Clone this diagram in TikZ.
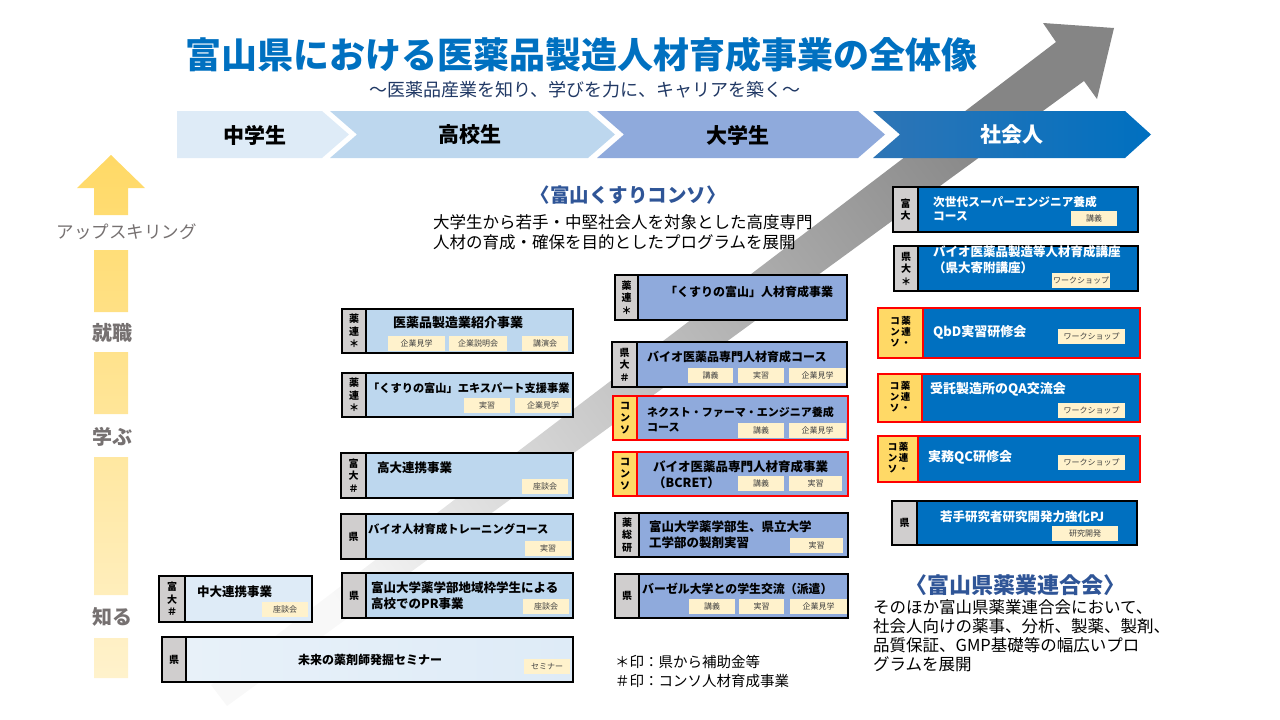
\documentclass[tikz,border=0pt]{standalone}
\usepackage{fontspec}
\setmainfont{Noto Sans CJK JP}
\usetikzlibrary{calc}
\definecolor{titleblue}{HTML}{0070C0}
\definecolor{navy}{HTML}{203864}
\definecolor{consoblue}{HTML}{2F5597}
\definecolor{stepA}{HTML}{DEEBF7}
\definecolor{stepB}{HTML}{BDD7EE}
\definecolor{stepC}{HTML}{8FAADC}
\definecolor{stepD}{HTML}{0070C0}
\definecolor{stepDl}{HTML}{2E75B6}
\definecolor{taggray}{HTML}{D0CECE}
\definecolor{tagyellow}{HTML}{FFD966}
\definecolor{memocol}{HTML}{FFF2CC}
\definecolor{labelgray}{HTML}{767171}
\definecolor{arrowlight}{HTML}{F8F8F8}
\definecolor{arrowdark}{HTML}{858585}
\definecolor{ylwtop}{HTML}{FFD966}
\definecolor{ylwbot}{HTML}{FFF2CC}
\def\consopair{\begin{tabular}{@{}c@{\hspace{1.5pt}}c@{}}コ&薬\\ン&連\\ソ&・\end{tabular}}
\tikzset{
	frame/.style={draw=black, line width=1.1pt, inner sep=0pt, outer sep=0pt, anchor=north west},
	tagbox/.style={frame, fill=taggray, align=center, font=\bfseries\fontsize{10}{12.5}\selectfont},
	consotag/.style={frame, draw=red, line width=2.6pt, fill=tagyellow, align=center, font=\bfseries\fontsize{10}{12}\selectfont},
	jhbox/.style={frame, fill=stepA},
	hsbox/.style={frame, fill=stepB},
	unibox/.style={frame, fill=stepC},
	workbox/.style={frame, fill=stepD},
	redbox/.style={draw=red, line width=2.6pt},
	memo/.style={fill=memocol, inner sep=0pt, outer sep=0pt, anchor=north west, minimum height=15pt, font=\fontsize{8}{8}\selectfont, text=black!75},
	boxtitle/.style={anchor=west, inner sep=0pt, align=left, font=\bfseries\fontsize{12.5}{16}\selectfont},
	stage/.style={font=\bfseries\fontsize{21}{21}\selectfont},
	level/.style={text=labelgray, font=\bfseries\fontsize{20}{20}\selectfont},
}

\begin{document}
\begin{tikzpicture}[x=1pt, y=-1pt]
	%%%%% START %%%%%
	\useasboundingbox (0, 0) rectangle (1280, 720);
	
	% big gray arrow
	\shade[bottom color=arrowlight, top color=arrowdark, shading angle=-53]
		(211, 685) -- (1056, 42) -- (1043, 23) -- (1114, 28) -- (1097, 99) -- (1084, 81) -- (227, 706) -- cycle;
	
	\node[text=titleblue, font=\bfseries\fontsize{36}{36}\selectfont] (title) at (581, 55) {富山県における医薬品製造人材育成事業の全体像};
	\node[text=navy, font=\fontsize{18}{18}\selectfont] (subtitle) at (585, 90) {～医薬品産業を知り、学びを力に、キャリアを築く～};
	
	% stages
	\fill[stepA] (177, 111) -- (322, 111) -- (349, 134.5) -- (322, 158) -- (177, 158) -- cycle;
	\fill[stepB] (330, 111) -- (588, 111) -- (615, 134.5) -- (588, 158) -- (330, 158) -- (357, 134.5) -- cycle;
	\fill[stepC] (597, 111) -- (858, 111) -- (885, 134.5) -- (858, 158) -- (597, 158) -- (624, 134.5) -- cycle;
	\shade[left color=stepDl, right color=stepD] (873, 111) -- (1125, 111) -- (1151, 134.5) -- (1125, 158) -- (873, 158) -- (900, 134.5) -- cycle;
	\node[stage] (junior) at (255, 135) {中学生};
	\node[stage] (high) at (470, 135) {高校生};
	\node[stage] (univ) at (738, 135) {大学生};
	\node[stage, text=white] (worker) at (1012, 135) {社会人};
	
	% yellow arrow
	\shade[top color=ylwtop, bottom color=ylwbot]
		(111, 155) -- (145, 188) -- (77, 188) -- cycle
		(94, 188) rectangle (128, 215)
		(94, 250) rectangle (128, 312)
		(94, 352) rectangle (128, 414)
		(94, 457) rectangle (128, 595)
		(94, 638) rectangle (128, 678);
	\node[anchor=west, text=labelgray, font=\fontsize{17.5}{17.5}\selectfont] (upskill) at (53, 232) {アップスキリング};
	\node[level] (job) at (112, 333) {就職};
	\node[level] (learn) at (112, 437) {学ぶ};
	\node[level] (know) at (112, 617) {知る};
	
	\node[text=consoblue, font=\bfseries\fontsize{19.5}{19.5}\selectfont] (kusuri) at (628, 195) {〈富山くすりコンソ〉};
	\node[anchor=west, inner sep=0pt, align=left, font=\fontsize{16.5}{20}\selectfont] (kusuritxt) at (433, 232) {大学生から若手・中堅社会人を対象とした高度専門\\人材の育成・確保を目的としたプログラムを展開};
	
	% left column
	\node[tagbox, minimum width=24pt, minimum height=44pt] (l1tag) at (342, 309) {薬\\連\\＊};
	\node[hsbox, minimum width=207pt, minimum height=44pt] (l1) at (366, 309) {};
	\node[boxtitle, font=\bfseries\fontsize{13}{16}\selectfont] (l1t) at (393, 323) {医薬品製造業紹介事業};
	\node[memo, minimum width=57pt] (l1a) at (388, 336) {企業見学};
	\node[memo, minimum width=58pt] (l1b) at (449, 336) {企業説明会};
	\node[memo, minimum width=46pt] (l1c) at (522, 336) {講演会};
	
	\node[tagbox, minimum width=24pt, minimum height=44pt] (l2tag) at (342, 373) {薬\\連\\＊};
	\node[hsbox, minimum width=207pt, minimum height=44pt] (l2) at (366, 373) {};
	\node[boxtitle, font=\bfseries\fontsize{11.2}{14}\selectfont] (l2t) at (368, 388) {「くすりの富山」エキスパート支援事業};
	\node[memo, minimum width=46pt] (l2a) at (464, 398) {実習};
	\node[memo, minimum width=56pt] (l2b) at (515, 398) {企業見学};
	
	\node[tagbox, minimum width=25pt, minimum height=45pt] (l3tag) at (341, 453) {富\\大\\＃};
	\node[hsbox, minimum width=207pt, minimum height=45pt] (l3) at (366, 453) {};
	\node[boxtitle] (l3t) at (377, 468) {高大連携事業};
	\node[memo, minimum width=46pt] (l3a) at (522, 479) {座談会};
	
	\node[tagbox, minimum width=25pt, minimum height=45pt] (l4tag) at (341, 514) {県};
	\node[hsbox, minimum width=207pt, minimum height=45pt] (l4) at (366, 514) {};
	\node[boxtitle, font=\bfseries\fontsize{11.3}{14}\selectfont] (l4t) at (368, 529) {バイオ人材育成トレーニングコース};
	\node[memo, minimum width=46pt] (l4a) at (525, 541) {実習};
	
	\node[tagbox, minimum width=24pt, minimum height=45pt] (l5tag) at (342, 573) {県};
	\node[hsbox, minimum width=207pt, minimum height=45pt] (l5) at (366, 573) {};
	\node[boxtitle] (l5t) at (371, 596) {富山大学薬学部地域枠学生による\\高校でのPR事業};
	\node[memo, minimum width=46pt] (l5a) at (523, 599) {座談会};
	
	\node[tagbox, minimum width=26pt, minimum height=46pt] (l6tag) at (159, 576) {富\\大\\＃};
	\node[jhbox, minimum width=127pt, minimum height=46pt] (l6) at (185, 576) {};
	\node[boxtitle] (l6t) at (197, 592) {中大連携事業};
	\node[memo, minimum width=46pt] (l6a) at (262, 602) {座談会};
	
	\node[tagbox, minimum width=24pt, minimum height=45pt] (l7tag) at (162, 637) {県};
	\node[frame, left color=stepA!70, middle color=stepB, right color=stepA, minimum width=387pt, minimum height=45pt] (l7) at (186, 637) {};
	\node[boxtitle, anchor=center, font=\bfseries\fontsize{12}{15}\selectfont] (l7t) at (370, 660) {未来の薬剤師発掘セミナー};
	\node[memo, minimum width=46pt] (l7a) at (524, 659) {セミナー};
	
	% middle column
	\node[tagbox, minimum width=23pt, minimum height=45pt] (m1tag) at (615, 275) {薬\\連\\＊};
	\node[unibox, minimum width=209pt, minimum height=45pt] (m1) at (638, 275) {};
	\node[boxtitle, font=\bfseries\fontsize{12}{15}\selectfont] (m1t) at (665, 292) {「くすりの富山」人材育成事業};
	
	\node[tagbox, minimum width=25pt, minimum height=45pt] (m2tag) at (612, 342) {県\\大\\＃};
	\node[unibox, minimum width=210pt, minimum height=45pt] (m2) at (637, 342) {};
	\node[boxtitle, font=\bfseries\fontsize{12}{15}\selectfont] (m2t) at (647, 357) {バイオ医薬品専門人材育成コース};
	\node[memo, minimum width=45pt] (m2a) at (688, 368) {講義};
	\node[memo, minimum width=46pt] (m2b) at (738, 368) {実習};
	\node[memo, minimum width=57pt] (m2c) at (789, 368) {企業見学};
	
	\node[consotag, minimum width=24pt, minimum height=44pt] (m3tag) at (613, 396) {コ\\ン\\ソ};
	\node[unibox, redbox, minimum width=211pt, minimum height=44pt] (m3) at (637, 396) {};
	\node[boxtitle, font=\bfseries\fontsize{11}{15}\selectfont] (m3t) at (647, 419.5) {ネクスト・ファーマ・エンジニア養成\\コース};
	\node[memo, minimum width=46pt] (m3a) at (738, 423) {講義};
	\node[memo, minimum width=57pt] (m3b) at (789, 423) {企業見学};
	
	\node[consotag, minimum width=24pt, minimum height=44pt] (m4tag) at (613, 452) {コ\\ン\\ソ};
	\node[unibox, redbox, minimum width=211pt, minimum height=44pt] (m4) at (637, 452) {};
	\node[boxtitle] (m4t) at (653, 474.5) {バイオ医薬品専門人材育成事業\\（BCRET）};
	\node[memo, minimum width=46pt] (m4a) at (738, 476) {講義};
	\node[memo, minimum width=53pt] (m4b) at (789, 476) {実習};
	
	\node[tagbox, minimum width=24pt, minimum height=44pt] (m5tag) at (615, 513) {薬\\総\\研};
	\node[unibox, minimum width=209pt, minimum height=44pt] (m5) at (639, 513) {};
	\node[boxtitle] (m5t) at (649, 535) {富山大学薬学部生、県立大学\\工学部の製剤実習};
	\node[memo, minimum width=53pt] (m5a) at (790, 538) {実習};
	
	\node[tagbox, minimum width=24pt, minimum height=44pt] (m6tag) at (615, 574) {県};
	\node[unibox, minimum width=209pt, minimum height=44pt] (m6) at (639, 574) {};
	\node[boxtitle, font=\bfseries\fontsize{11.9}{15}\selectfont] (m6t) at (642, 589) {バーゼル大学との学生交流（派遣）};
	\node[memo, minimum width=46pt] (m6a) at (689, 599) {講義};
	\node[memo, minimum width=45pt] (m6b) at (739, 599) {実習};
	\node[memo, minimum width=57pt] (m6c) at (790, 599) {企業見学};
	
	\node[anchor=north west, inner sep=0pt, align=left, font=\fontsize{14.5}{19}\selectfont] (notes) at (615, 655) {＊印：県から補助金等\\＃印：コンソ人材育成事業};
	
	% right column
	\node[tagbox, minimum width=25pt, minimum height=45pt] (r1tag) at (893, 187) {富\\大};
	\node[workbox, minimum width=220pt, minimum height=45pt] (r1) at (918, 187) {};
	\node[boxtitle, text=white, font=\bfseries\fontsize{11.7}{14}\selectfont] (r1t) at (933, 208.5) {次世代スーパーエンジニア養成\\コース};
	\node[memo, minimum width=46pt] (r1a) at (1071, 211) {講義};
	
	\node[tagbox, minimum width=24pt, minimum height=45pt] (r2tag) at (894, 246) {県\\大\\＊};
	\node[workbox, minimum width=220pt, minimum height=45pt] (r2) at (918, 246) {};
	\node[boxtitle, text=white] (r2t) at (933, 260) {バイオ医薬品製造等人材育成講座\\（県大寄附講座）};
	\node[memo, minimum width=58pt] (r2a) at (1052, 273) {ワークショップ};
	
	\node[consotag, minimum width=45pt, minimum height=50pt, font=\bfseries\fontsize{9.5}{10.5}\selectfont] (r3tag) at (878, 308) {\consopair};
	\node[workbox, redbox, minimum width=217pt, minimum height=50pt] (r3) at (923, 308) {};
	\node[boxtitle, text=white, font=\bfseries\fontsize{13}{16}\selectfont] (r3t) at (933, 332) {QbD実習研修会};
	\node[memo, minimum width=67pt] (r3a) at (1058, 329) {ワークショップ};
	
	\node[consotag, minimum width=44pt, minimum height=48pt, font=\bfseries\fontsize{9.5}{10.5}\selectfont] (r4tag) at (878, 374) {\consopair};
	\node[workbox, redbox, minimum width=218pt, minimum height=48pt] (r4) at (922, 374) {};
	\node[boxtitle, text=white, font=\bfseries\fontsize{13}{16}\selectfont] (r4t) at (930, 389) {受託製造所のQA交流会};
	\node[memo, minimum width=67pt] (r4a) at (1058, 403) {ワークショップ};
	
	\node[consotag, minimum width=40pt, minimum height=46pt, font=\bfseries\fontsize{9.5}{10.5}\selectfont] (r5tag) at (878, 436) {\consopair};
	\node[workbox, redbox, minimum width=222pt, minimum height=46pt] (r5) at (918, 436) {};
	\node[boxtitle, text=white, font=\bfseries\fontsize{13}{16}\selectfont] (r5t) at (928, 457) {実務QC研修会};
	\node[memo, minimum width=67pt] (r5a) at (1058, 455) {ワークショップ};
	
	\node[tagbox, minimum width=25pt, minimum height=44pt] (r6tag) at (892, 501) {県};
	\node[workbox, minimum width=220pt, minimum height=44pt] (r6) at (917, 501) {};
	\node[boxtitle, text=white] (r6t) at (940, 517) {若手研究者研究開発力強化PJ};
	\node[memo, minimum width=66pt] (r6a) at (1052, 526) {研究開発};
	
	\node[text=consoblue, font=\bfseries\fontsize{22}{22}\selectfont] (yakuren) at (1015, 585) {〈富山県薬業連合会〉};
	\node[anchor=north west, inner sep=0pt, align=left, font=\fontsize{16.5}{19}\selectfont] (yakurentxt) at (873, 599) {そのほか富山県薬業連合会において、\\社会人向けの薬事、分析、製薬、製剤、\\品質保証、GMP基礎等の幅広いプロ\\グラムを展開};
	
	%%%%% END %%%%%
\end{tikzpicture}
\end{document}
